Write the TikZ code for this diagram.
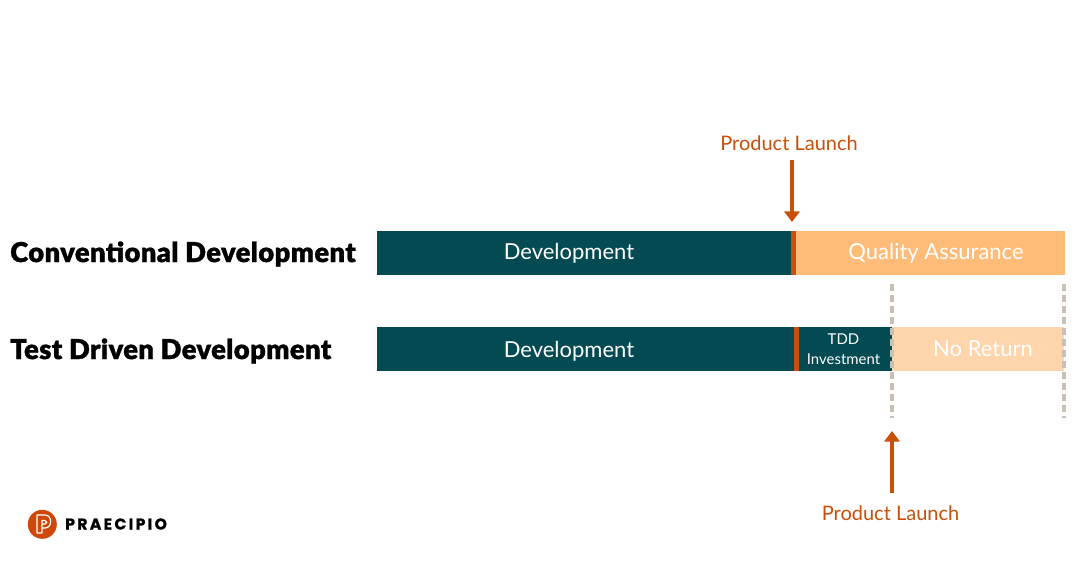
\documentclass[tikz,border=0pt]{standalone}
\usepackage{fontspec}
\setmainfont{Lato}
\newfontfamily\headfont[FakeBold=1.2,LetterSpace=1.5]{Lato Black}
\newfontfamily\logofont[LetterSpace=15,FakeBold=1]{Poppins Bold}
\usetikzlibrary{positioning,arrows.meta}

\definecolor{devteal}{HTML}{034A52}
\definecolor{launchorange}{HTML}{C8500A}
\definecolor{qapeach}{HTML}{FFBC78}
\definecolor{nopeach}{HTML}{FFD5AB}
\definecolor{dashgrey}{HTML}{C9BFB5}

\tikzset{
  bar/.style={minimum height=33pt, inner sep=0pt, outer sep=0pt, anchor=west},
  bartext/.style={text=white, inner sep=0pt, font=\fontsize{16.5}{18}\selectfont},
  headline/.style={anchor=west, inner sep=0pt, font=\fontsize{20.5}{22}\headfont},
  launch/.style={text=launchorange, inner sep=0pt, font=\fontsize{15}{17}\selectfont},
  launcharrow/.style={draw=launchorange, line width=2.6pt, -{Triangle[length=8pt,width=11.5pt]}},
  limit/.style={draw=dashgrey, line width=2.3pt, dash pattern=on 5.25pt off 3pt},
}

\begin{document}
\begin{tikzpicture}[x=0.75pt, y=-0.75pt]
  \useasboundingbox (0,0) rectangle (1080,565);

  % conventional row
  \node [headline] (conv) at (10,254) {Conventional Development};
  \node [bar, fill=devteal, minimum width=310.5pt] (dev1) at (377,253) {};
  \node [bar, fill=launchorange, minimum width=3.75pt, right=0pt of dev1] (mark1) {};
  \node [bar, fill=qapeach, minimum width=201.75pt, right=0pt of mark1] (qa) {};
  \node [bartext] (devtext1) at (569,253) {Development};
  \node [bartext] (qatext) at (936,253) {Quality Assurance};

  % tdd row
  \node [headline] (tdd) at (10,351) {Test Driven Development};
  \node [bar, fill=devteal, minimum width=312.75pt] (dev2) at (377,349) {};
  \node [bar, fill=launchorange, minimum width=3.75pt, right=0pt of dev2] (mark2) {};
  \node [bar, fill=devteal, minimum width=69.75pt, right=0pt of mark2] (invest) {};
  \node [bar, fill=nopeach, minimum width=129pt, right=0pt of invest] (noret) {};
  \node [bartext] (devtext2) at (569,351) {Development};
  \node [bartext] (noretext) at (983,349) {No Return};
  \node [bartext, align=center, font=\fontsize{11.2}{15}\selectfont] (investtext) at (843.5,349) {TDD\\Investment};

  % limits of the return
  \coordinate (lim1a) at (892,284);
  \coordinate (lim1b) at (892,418);
  \coordinate (lim2a) at (1064,284);
  \coordinate (lim2b) at (1064,418);
  \draw [limit] (lim1a) -- (lim1b);
  \draw [limit] (lim2a) -- (lim2b);

  % launch markers
  \node [launch] (launchtop) at (789,143.5) {Product Launch};
  \coordinate (launchtopend) at (792,222);
  \coordinate (launchtopstart) at (792,160);
  \draw [launcharrow] (launchtopstart) -- (launchtopend);

  \node [launch] (launchbot) at (890.5,513.5) {Product Launch};
  \coordinate (launchbotend) at (892,431);
  \coordinate (launchbotstart) at (892,493);
  \draw [launcharrow] (launchbotstart) -- (launchbotend);

  % logo
  \node [circle, fill=launchorange!90!red, minimum size=21.75pt, inner sep=0pt] (logomark) at (42.3,524.3) {};
  \draw [white, line width=0.9pt, line join=round]
    (37,533) -- (37,515) -- (45,515)
    .. controls (52.5,515) and (52.5,528) .. (45,528) -- (42,528) -- (42,533) -- cycle
    (42,528) -- (42,520.5) -- (45,520.5) .. controls (47.5,520.5) and (47.5,524) .. (45,524) -- (42,524);
  \node [anchor=west, inner sep=0pt, font=\fontsize{11.7}{12}\logofont] (logotext) at (65,524) {PRAECIPIO};
\end{tikzpicture}
\end{document}
